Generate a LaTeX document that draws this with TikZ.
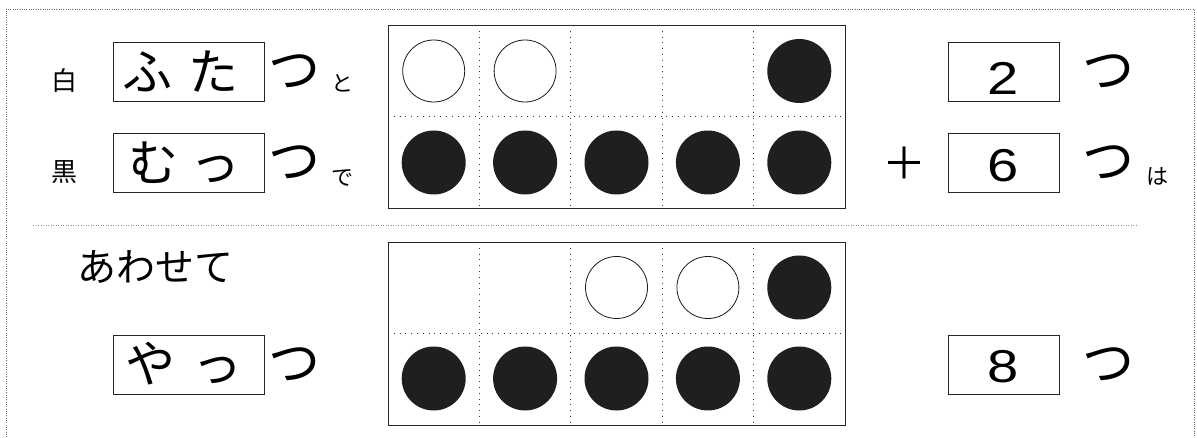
\documentclass[tikz,border=0pt]{standalone}
\usepackage{fontspec}
\newfontfamily\jp{Noto Sans CJK JP}
\newfontfamily\digit{Liberation Sans}
\newcommand{\widedigit}[1]{\scalebox{1.22}[1]{#1}}
\begin{document}
\begin{tikzpicture}[x=1pt,y=-1pt,
  ansbox/.style={draw=black!85,line width=0.9pt,minimum width=151pt,minimum height=59pt,inner sep=0pt},
  numbox/.style={draw=black!85,line width=0.9pt,minimum width=111pt,minimum height=59pt,inner sep=0pt},
  frame/.style={draw=black!85,line width=0.9pt},
  celldiv/.style={draw=black!80,line width=0.8pt,dash pattern=on 0.8pt off 5pt},
  outerdot/.style={draw=black!60,line width=0.9pt,dash pattern=on 0.9pt off 1.4pt},
  sepdot/.style={draw=black!45,line width=0.9pt,dash pattern=on 0.9pt off 1.6pt},
  wdot/.style={circle,draw=black!90,line width=0.8pt,fill=white,minimum size=62pt,inner sep=0pt},
  bdot/.style={circle,fill=black!88,minimum size=64pt,inner sep=0pt},
  inbox/.style={font=\jp\fontsize{50}{50}\selectfont,inner sep=0pt},
  big/.style={font=\jp\fontsize{52}{52}\selectfont,inner sep=0pt},
  small/.style={font=\jp\fontsize{26}{26}\selectfont,inner sep=0pt},
  tiny/.style={font=\jp\fontsize{22}{22}\selectfont,inner sep=0pt},
  num/.style={font=\digit\fontsize{46}{46}\selectfont,inner sep=0pt}
]
\useasboundingbox (0,0) rectangle (1197,438);
% outer border
\draw[outerdot] (6,460) -- (6,9) -- (1194,9) -- (1194,460);
% separator
\draw[sepdot] (33,225) -- (1138,225);

% ---- ten frames ----
\foreach \top in {25,242}{
  \draw[frame] (388,\top) rectangle (845,\top+183);
  \draw[celldiv] (388,\top+91.5) -- (845,\top+91.5);
  \foreach \i in {1,...,4}{
    \draw[celldiv] (388+\i*91.4,\top) -- (388+\i*91.4,\top+183);
  }
}
% top frame dots
\node[wdot] (a1) at (433.7,71) {};
\node[wdot] (a2) at (525.1,71) {};
\node[bdot] (a5) at (799.3,71) {};
\foreach \i in {1,...,5}{ \node[bdot] (b\i) at (388+\i*91.4-45.7,162.5) {}; }
% bottom frame dots
\node[wdot] (c3) at (616.5,287.5) {};
\node[wdot] (c4) at (707.9,287.5) {};
\node[bdot] (c5) at (799.3,287.5) {};
\foreach \i in {1,...,5}{ \node[bdot] (d\i) at (388+\i*91.4-45.7,378.5) {}; }

% ---- left side ----
\node[small] (shiro) at (64,81) {白};
\node[small] (kuro) at (64,172) {黒};
\node[ansbox] (box1) at (188.5,71.5) {};
\node[ansbox] (box2) at (188.5,163) {};
\node[ansbox] (box3) at (188.5,364.5) {};
\node[inbox] (t1) at (180,72) {ふ\hspace{16pt}た};
\node[inbox] (t2) at (184,163) {む\hspace{12pt}っ};
\node[inbox] (t3) at (183.5,364) {や\hspace{17pt}っ};
\node[big] (tsu1) at (294,72) {つ};
\node[big] (tsu2) at (294,163) {つ};
\node[big] (tsu3) at (294,365) {つ};
\node[tiny] (to) at (342,83) {と};
\node[tiny] (de) at (342,178) {で};
\node[font=\jp\fontsize{39}{39}\selectfont,inner sep=0pt] (awasete) at (155,267) {あわせて};

% ---- right side ----
\node[numbox] (n1) at (1003.5,71.5) {};
\node[numbox] (n2) at (1003.5,163) {};
\node[numbox] (n3) at (1003.5,364.5) {};
\node[num] (d2) at (1003.5,78) {\widedigit{2}};
\node[num] (d6) at (1003.5,165.5) {\widedigit{6}};
\node[num] (d8) at (1003.5,366.5) {\widedigit{8}};
\node[big] (tsu4) at (1108,72) {つ};
\node[big] (tsu5) at (1108,163) {つ};
\node[big] (tsu6) at (1108,365) {つ};
\node[tiny] (ha) at (1157,176) {は};
\node[font=\jp\fontsize{44}{44}\selectfont,inner sep=0pt] (plus) at (904,163) {＋};
\end{tikzpicture}
\end{document}
